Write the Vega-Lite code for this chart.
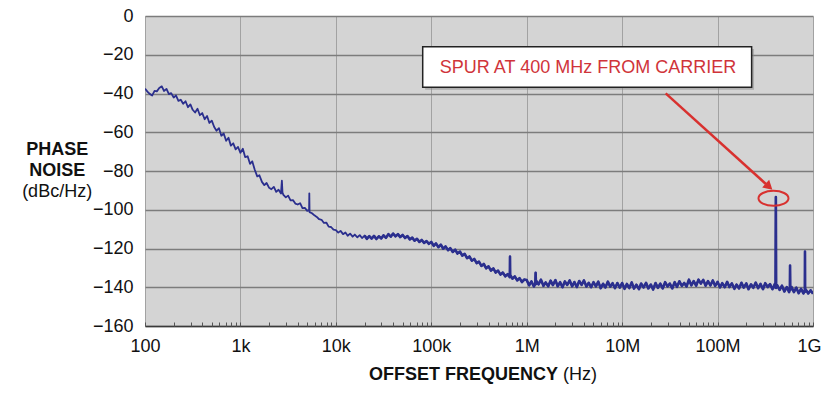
{
  "$schema": "https://vega.github.io/schema/vega-lite/v6.json",
  "width": 668,
  "height": 310,
  "autosize": {"type": "none"},
  "padding": {"left": 145, "top": 16, "right": 9, "bottom": 84},
  "background": "white",
  "config": {"view": {"fill": "#d4d4d4", "stroke": null}, "font": "Liberation Sans"},
  "resolve": {"axis": {"x": "independent", "y": "independent"}},
  "datasets": {
    "pn": [
        {"f":100,"p":-37.5},{"f":106,"p":-39.0},{"f":112,"p":-40.2},{"f":119,"p":-41.0},{"f":126,"p":-38.6},{"f":133,"p":-38.9},{"f":141,"p":-37.2},{"f":150,"p":-36.3},{"f":158,"p":-38.7},{"f":168,"p":-37.6},
        {"f":178,"p":-40.3},{"f":188,"p":-39.8},{"f":200,"p":-42.1},{"f":211,"p":-41.0},{"f":224,"p":-43.8},{"f":237,"p":-43.2},{"f":251,"p":-45.3},{"f":266,"p":-44.0},{"f":282,"p":-47.1},{"f":299,"p":-45.6},
        {"f":316,"p":-48.4},{"f":335,"p":-49.8},{"f":355,"p":-47.9},{"f":376,"p":-51.2},{"f":398,"p":-50.1},{"f":422,"p":-53.3},{"f":447,"p":-51.6},{"f":473,"p":-55.2},{"f":501,"p":-54.0},{"f":531,"p":-57.3},
        {"f":562,"p":-59.2},{"f":596,"p":-57.9},{"f":631,"p":-61.8},{"f":668,"p":-60.6},{"f":708,"p":-64.4},{"f":750,"p":-62.8},{"f":794,"p":-66.9},{"f":841,"p":-65.7},{"f":891,"p":-68.8},{"f":944,"p":-67.6},
        {"f":1000,"p":-70.6},{"f":1060,"p":-68.5},{"f":1120,"p":-72.8},{"f":1190,"p":-72.4},{"f":1260,"p":-76.3},{"f":1330,"p":-75.0},{"f":1410,"p":-79.2},{"f":1500,"p":-82.8},{"f":1580,"p":-82.2},{"f":1680,"p":-85.6},
        {"f":1780,"p":-87.3},{"f":1880,"p":-86.2},{"f":2000,"p":-88.7},{"f":2110,"p":-89.4},{"f":2240,"p":-88.2},{"f":2370,"p":-90.8},{"f":2510,"p":-89.7},{"f":2660,"p":-91.6},{"f":2720,"p":-85.0},{"f":2760,"p":-91.2},
        {"f":2820,"p":-92.3},{"f":2990,"p":-93.6},{"f":3160,"p":-92.7},{"f":3350,"p":-95.2},{"f":3550,"p":-95.0},{"f":3760,"p":-96.8},{"f":3980,"p":-97.3},{"f":4220,"p":-96.6},{"f":4470,"p":-99.2},{"f":4730,"p":-99.0},
        {"f":5010,"p":-100.6},{"f":5240,"p":-100.2},{"f":5270,"p":-91.5},{"f":5300,"p":-101.2},{"f":5620,"p":-101.8},{"f":5960,"p":-102.9},{"f":6310,"p":-103.7},{"f":6680,"p":-104.9},{"f":7080,"p":-105.2},{"f":7500,"p":-106.8},
        {"f":7940,"p":-106.6},{"f":8410,"p":-108.7},{"f":8910,"p":-108.9},{"f":9440,"p":-110.3},
        {"f":10000,"p":-110.5},{"f":10600,"p":-111.8},{"f":11200,"p":-110.9},{"f":11900,"p":-112.6},{"f":12600,"p":-111.7},{"f":13300,"p":-113.4},{"f":14100,"p":-112.3},{"f":15000,"p":-113.9},{"f":15800,"p":-112.8},{"f":16800,"p":-114.2},
        {"f":17800,"p":-113.1},{"f":18800,"p":-114.6},{"f":20000,"p":-113.3},{"f":21100,"p":-115.0},{"f":22400,"p":-113.6},{"f":23700,"p":-114.9},{"f":25100,"p":-113.5},{"f":26600,"p":-115.1},{"f":28200,"p":-113.7},{"f":29900,"p":-114.8},
        {"f":31600,"p":-113.2},{"f":33500,"p":-114.5},{"f":35500,"p":-112.6},{"f":37600,"p":-113.9},{"f":39800,"p":-112.3},{"f":42200,"p":-113.7},{"f":44700,"p":-112.6},{"f":47300,"p":-114.1},{"f":50100,"p":-113.0},{"f":53100,"p":-114.6},
        {"f":56200,"p":-113.6},{"f":59600,"p":-115.3},{"f":63100,"p":-114.4},{"f":66800,"p":-116.0},{"f":70800,"p":-115.0},{"f":75000,"p":-116.6},{"f":79400,"p":-115.6},{"f":84100,"p":-117.1},{"f":89100,"p":-116.2},{"f":94400,"p":-117.6},
        {"f":100000,"p":-116.6},{"f":106000,"p":-118.6},{"f":112000,"p":-117.4},{"f":119000,"p":-119.3},{"f":126000,"p":-118.0},{"f":133000,"p":-120.1},{"f":141000,"p":-118.9},{"f":150000,"p":-120.9},{"f":158000,"p":-119.8},{"f":168000,"p":-121.8},
        {"f":178000,"p":-120.6},{"f":188000,"p":-122.6},{"f":200000,"p":-121.6},{"f":211000,"p":-123.7},{"f":224000,"p":-122.8},{"f":237000,"p":-125.0},{"f":251000,"p":-124.1},{"f":266000,"p":-126.3},{"f":282000,"p":-125.4},{"f":299000,"p":-127.6},
        {"f":316000,"p":-126.8},{"f":335000,"p":-129.0},{"f":355000,"p":-128.0},{"f":376000,"p":-130.2},{"f":398000,"p":-129.2},{"f":422000,"p":-131.4},{"f":447000,"p":-130.3},{"f":473000,"p":-132.4},{"f":501000,"p":-131.4},{"f":531000,"p":-133.5},
        {"f":562000,"p":-132.4},{"f":596000,"p":-134.4},{"f":631000,"p":-133.2},{"f":665000,"p":-134.8},{"f":668000,"p":-124.2},{"f":671000,"p":-133.6},{"f":708000,"p":-135.6},{"f":750000,"p":-134.4},{"f":794000,"p":-136.5},{"f":841000,"p":-135.3},
        {"f":891000,"p":-137.3},{"f":944000,"p":-136.0},
        {"f":1000000,"p":-136.3},{"f":1060000,"p":-139.0},{"f":1120000,"p":-137.0},{"f":1190000,"p":-139.6},{"f":1230000,"p":-138.2},{"f":1240000,"p":-132.5},{"f":1250000,"p":-138.4},{"f":1260000,"p":-136.7},{"f":1330000,"p":-138.5},{"f":1410000,"p":-136.1},
        {"f":1500000,"p":-139.3},{"f":1580000,"p":-137.5},{"f":1680000,"p":-139.5},{"f":1780000,"p":-136.6},{"f":1880000,"p":-138.9},{"f":2000000,"p":-136.3},{"f":2110000,"p":-139.5},{"f":2240000,"p":-137.4},{"f":2370000,"p":-140.0},{"f":2510000,"p":-137.0},
        {"f":2660000,"p":-138.8},{"f":2820000,"p":-136.5},{"f":2990000,"p":-139.5},{"f":3160000,"p":-137.3},{"f":3350000,"p":-139.9},{"f":3550000,"p":-136.8},{"f":3760000,"p":-138.8},{"f":3980000,"p":-136.5},{"f":4220000,"p":-139.6},{"f":4470000,"p":-137.7},
        {"f":4730000,"p":-140.0},{"f":5010000,"p":-137.4},{"f":5310000,"p":-139.6},{"f":5620000,"p":-137.1},{"f":5960000,"p":-140.5},{"f":6310000,"p":-138.2},{"f":6680000,"p":-140.1},{"f":7080000,"p":-137.1},{"f":7500000,"p":-139.7},{"f":7940000,"p":-137.9},
        {"f":8410000,"p":-140.5},{"f":8910000,"p":-137.8},{"f":9440000,"p":-140.2},
        {"f":10000000,"p":-137.8},{"f":10600000,"p":-140.8},{"f":11200000,"p":-138.3},{"f":11900000,"p":-140.4},{"f":12600000,"p":-137.5},{"f":13300000,"p":-140.7},{"f":14100000,"p":-138.7},{"f":15000000,"p":-141.0},{"f":15800000,"p":-138.1},{"f":16800000,"p":-140.1},
        {"f":17800000,"p":-137.7},{"f":18800000,"p":-140.6},{"f":20000000,"p":-138.6},{"f":21100000,"p":-141.2},{"f":22400000,"p":-137.8},{"f":23700000,"p":-140.3},{"f":25100000,"p":-138.1},{"f":26600000,"p":-140.6},{"f":28200000,"p":-137.4},{"f":29900000,"p":-139.6},
        {"f":31600000,"p":-138.1},{"f":33500000,"p":-140.6},{"f":35500000,"p":-137.4},{"f":37600000,"p":-139.8},{"f":39800000,"p":-136.9},{"f":42200000,"p":-139.3},{"f":44700000,"p":-137.8},{"f":47300000,"p":-139.6},{"f":50100000,"p":-136.1},{"f":53100000,"p":-139.0},
        {"f":56200000,"p":-136.8},{"f":59600000,"p":-139.2},{"f":63100000,"p":-136.1},{"f":66800000,"p":-138.1},{"f":70800000,"p":-136.2},{"f":75000000,"p":-139.2},{"f":79400000,"p":-136.8},{"f":84100000,"p":-139.1},{"f":89100000,"p":-136.5},{"f":94400000,"p":-139.3},
        {"f":100000000,"p":-137.2},{"f":106000000,"p":-140.1},{"f":112000000,"p":-137.9},{"f":119000000,"p":-140.0},{"f":126000000,"p":-137.2},{"f":133000000,"p":-139.9},{"f":141000000,"p":-138.0},{"f":150000000,"p":-140.8},{"f":158000000,"p":-138.6},{"f":168000000,"p":-140.6},
        {"f":178000000,"p":-137.7},{"f":188000000,"p":-140.2},{"f":200000000,"p":-138.0},{"f":211000000,"p":-141.0},{"f":224000000,"p":-138.5},{"f":237000000,"p":-140.3},{"f":251000000,"p":-137.6},{"f":266000000,"p":-140.5},{"f":282000000,"p":-138.3},{"f":299000000,"p":-141.0},
        {"f":316000000,"p":-137.9},{"f":335000000,"p":-139.9},{"f":355000000,"p":-138.4},{"f":376000000,"p":-141.0},{"f":398000000,"p":-138.3},{"f":405000000,"p":-140.2},{"f":408000000,"p":-93.4},{"f":411000000,"p":-140.4},{"f":422000000,"p":-139.0},{"f":447000000,"p":-141.4},
        {"f":473000000,"p":-139.2},{"f":501000000,"p":-142.2},{"f":531000000,"p":-139.9},{"f":562000000,"p":-142.5},{"f":572000000,"p":-141.2},{"f":575000000,"p":-128.8},{"f":578000000,"p":-141.4},{"f":596000000,"p":-139.9},{"f":631000000,"p":-142.5},{"f":668000000,"p":-140.2},
        {"f":708000000,"p":-143.1},{"f":750000000,"p":-140.8},{"f":794000000,"p":-143.2},{"f":821000000,"p":-141.5},{"f":824000000,"p":-121.6},{"f":827000000,"p":-142.3},{"f":841000000,"p":-141.2},{"f":891000000,"p":-143.2},{"f":944000000,"p":-141.6},{"f":1000000000,"p":-143.3}
    ]
  },
  "layer": [
    {
      "data": {"name": "pn"},
      "mark": {"type": "line", "color": "#2b2f8e", "strokeWidth": 1.8, "strokeJoin": "round", "clip": true},
      "encoding": {
        "x": {
          "field": "f", "type": "quantitative",
          "scale": {"type": "log", "domain": [100, 1000000000], "nice": false},
          "axis": {
            "orient": "bottom", "title": null,
            "values": [100, 1000, 10000, 100000, 1000000, 10000000, 100000000, 1000000000],
            "labelExpr": "datum.value >= 1e9 ? '1G' : datum.value >= 1e8 ? '100M' : datum.value >= 1e7 ? '10M' : datum.value >= 1e6 ? '1M' : datum.value >= 1e5 ? '100k' : datum.value >= 1e4 ? '10k' : datum.value >= 1e3 ? '1k' : '100'",
            "labelAlign": {"expr": "datum.value >= 1e9 ? 'right' : 'center'"},
            "labelOffset": {"expr": "datum.value >= 1e9 ? 8 : 0"},
            "grid": true, "gridColor": "#a2a2a2", "gridWidth": 1,
            "ticks": false, "tickSize": 0,
            "domain": true, "domainColor": "#3a3a3a", "domainWidth": 1.5,
            "labelFontSize": 18, "labelColor": "#111111", "labelPadding": 11,
            "labelFlush": false, "labelOverlap": false
          }
        },
        "y": {
          "field": "p", "type": "quantitative",
          "scale": {"domain": [-160, 0], "nice": false, "zero": false},
          "axis": {
            "orient": "left", "title": null,
            "values": [-160, -140, -120, -100, -80, -60, -40, -20, 0],
            "grid": true, "gridColor": "#7c7c7c", "gridWidth": 1.5,
            "ticks": false, "tickSize": 0, "domain": false,
            "labelFontSize": 18, "labelColor": "#111111", "labelPadding": 12
          }
        }
      }
    },
    {
      "data": {"name": "pn"},
      "transform": [{"filter": "datum.f >= 20000"}],
      "mark": {"type": "line", "color": "#2b2f8e", "strokeWidth": 2.6, "strokeJoin": "round", "clip": true},
      "encoding": {
        "x": {"field": "f", "type": "quantitative", "scale": {"type": "log", "domain": [100, 1000000000], "nice": false}, "axis": null},
        "y": {"field": "p", "type": "quantitative", "scale": {"domain": [-160, 0], "nice": false, "zero": false}, "axis": null}
      }
    },
    {
      "data": {"values": [{}]},
      "mark": {"type": "rect", "color": "#8a8a8a", "opacity": 0.5},
      "encoding": {
        "x": {"datum": 86300, "type": "quantitative", "scale": {"type": "log", "domain": [100, 1000000000], "nice": false}, "axis": null},
        "x2": {"datum": 241000000},
        "y": {"datum": -17.0, "type": "quantitative", "scale": {"domain": [-160, 0], "nice": false, "zero": false}, "axis": null},
        "y2": {"datum": -38.1}
      }
    },
    {
      "data": {"values": [{}]},
      "mark": {"type": "rect", "fill": "white", "stroke": "#222222", "strokeWidth": 1.5},
      "encoding": {
        "x": {"datum": 81300, "type": "quantitative", "scale": {"type": "log", "domain": [100, 1000000000], "nice": false}, "axis": null},
        "x2": {"datum": 227500000},
        "y": {"datum": -15.85, "type": "quantitative", "scale": {"domain": [-160, 0], "nice": false, "zero": false}, "axis": null},
        "y2": {"datum": -36.8}
      }
    },
    {
      "data": {"values": [{}]},
      "mark": {"type": "text", "fontSize": 18, "color": "#d0343a", "align": "center", "baseline": "middle"},
      "encoding": {
        "x": {"datum": 4385000, "type": "quantitative", "scale": {"type": "log", "domain": [100, 1000000000], "nice": false}, "axis": null},
        "y": {"datum": -26.7, "type": "quantitative", "scale": {"domain": [-160, 0], "nice": false, "zero": false}, "axis": null},
        "text": {"value": "SPUR AT 400 MHz FROM CARRIER"}
      }
    },
    {
      "data": {"values": [{}]},
      "mark": {"type": "rule", "color": "#d8312f", "strokeWidth": 2.5},
      "encoding": {
        "x": {"datum": 28600000, "type": "quantitative", "scale": {"type": "log", "domain": [100, 1000000000], "nice": false}, "axis": null},
        "x2": {"datum": 321000000},
        "y": {"datum": -39.9, "type": "quantitative", "scale": {"domain": [-160, 0], "nice": false, "zero": false}, "axis": null},
        "y2": {"datum": -86.7}
      }
    },
    {
      "data": {"values": [{}]},
      "mark": {"type": "point", "shape": "triangle-right", "filled": true, "color": "#d8312f", "size": 110, "angle": 42, "opacity": 1},
      "encoding": {
        "x": {"datum": 346000000, "type": "quantitative", "scale": {"type": "log", "domain": [100, 1000000000], "nice": false}, "axis": null},
        "y": {"datum": -88.05, "type": "quantitative", "scale": {"domain": [-160, 0], "nice": false, "zero": false}, "axis": null}
      }
    },
    {
      "data": {"values": [{}]},
      "mark": {"type": "point", "shape": "M -1 0 A 1 0.5 0 1 0 1 0 A 1 0.5 0 1 0 -1 0 Z", "filled": false, "color": "#d8312f", "strokeWidth": 2, "size": 900, "opacity": 1},
      "encoding": {
        "x": {
          "datum": 385500000, "type": "quantitative",
          "scale": {"type": "log", "domain": [100, 1000000000], "nice": false},
          "axis": {
            "orient": "bottom", "title": null, "labels": false, "grid": false, "domain": false,
            "ticks": true, "tickSize": -4, "tickColor": "#555555", "tickWidth": 1,
            "values": [100,200,300,400,500,600,700,800,900,1000,2000,3000,4000,5000,6000,7000,8000,9000,10000,20000,30000,40000,50000,60000,70000,80000,90000,100000,200000,300000,400000,500000,600000,700000,800000,900000,1000000,2000000,3000000,4000000,5000000,6000000,7000000,8000000,9000000,10000000,20000000,30000000,40000000,50000000,60000000,70000000,80000000,90000000,100000000,200000000,300000000,400000000,500000000,600000000,700000000,800000000,900000000,1000000000]
          }
        },
        "y": {"datum": -94.1, "type": "quantitative", "scale": {"domain": [-160, 0], "nice": false, "zero": false}, "axis": null}
      }
    },
    {
      "data": {"values": [{"t": "PHASE", "v": -69.2}, {"t": "NOISE", "v": -80}]},
      "mark": {"type": "text", "fontSize": 18, "fontWeight": "bold", "color": "#111111", "align": "center", "baseline": "middle"},
      "encoding": {
        "x": {"datum": 12, "type": "quantitative", "scale": {"type": "log", "domain": [100, 1000000000], "nice": false}, "axis": null},
        "y": {"field": "v", "type": "quantitative", "scale": {"domain": [-160, 0], "nice": false, "zero": false}, "axis": null},
        "text": {"field": "t"}
      }
    },
    {
      "data": {"values": [{}]},
      "mark": {"type": "text", "fontSize": 18, "color": "#111111", "align": "center", "baseline": "middle"},
      "encoding": {
        "x": {"datum": 12, "type": "quantitative", "scale": {"type": "log", "domain": [100, 1000000000], "nice": false}, "axis": null},
        "y": {"datum": -91, "type": "quantitative", "scale": {"domain": [-160, 0], "nice": false, "zero": false}, "axis": null},
        "text": {"value": "(dBc/Hz)"}
      }
    },
    {
      "data": {"values": [{}]},
      "mark": {"type": "text", "fontSize": 18, "fontWeight": "bold", "color": "#111111", "align": "right", "baseline": "middle"},
      "encoding": {
        "x": {"datum": 2130000, "type": "quantitative", "scale": {"type": "log", "domain": [100, 1000000000], "nice": false}, "axis": null},
        "y": {"datum": -185.3, "type": "quantitative", "scale": {"domain": [-160, 0], "nice": false, "zero": false}, "axis": null},
        "text": {"value": "OFFSET FREQUENCY"}
      }
    },
    {
      "data": {"values": [{}]},
      "mark": {"type": "text", "fontSize": 18, "color": "#111111", "align": "left", "baseline": "middle"},
      "encoding": {
        "x": {"datum": 2400000, "type": "quantitative", "scale": {"type": "log", "domain": [100, 1000000000], "nice": false}, "axis": null},
        "y": {"datum": -185.3, "type": "quantitative", "scale": {"domain": [-160, 0], "nice": false, "zero": false}, "axis": null},
        "text": {"value": "(Hz)"}
      }
    }
  ]
}
